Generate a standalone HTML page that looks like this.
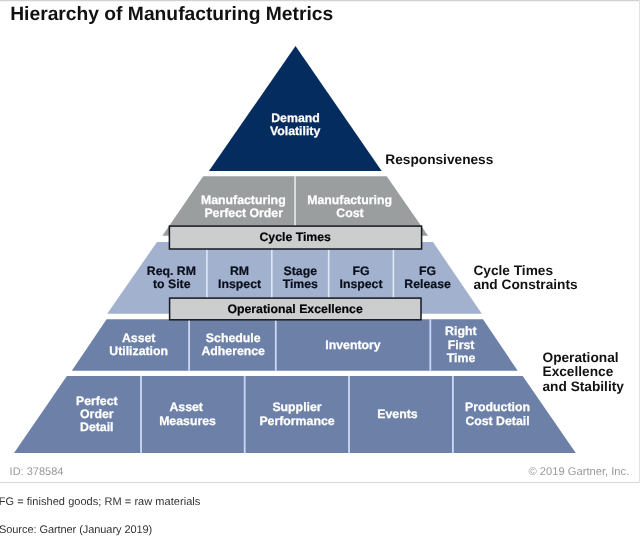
<!DOCTYPE html>
<html lang="en">
<head>
<meta charset="utf-8">
<title>Hierarchy of Manufacturing Metrics</title>
<style>
html,body{margin:0;padding:0;background:#fff;}
body{width:640px;height:540px;overflow:hidden;position:relative;font-family:"Liberation Sans",sans-serif;}
svg{position:absolute;left:0;top:0;display:block;will-change:transform;}
svg text{font-family:"Liberation Sans",sans-serif;text-rendering:geometricPrecision;}
.t{font-weight:bold;font-size:19.25px;fill:#111;}
.w{font-weight:bold;font-size:12.3px;fill:#fff;text-anchor:middle;stroke:#fff;stroke-width:0.25px;}
.k{font-weight:bold;font-size:12.3px;fill:#0a0f1c;text-anchor:middle;stroke:#0a0f1c;stroke-width:0.2px;}
.s{font-weight:bold;font-size:13.7px;fill:#111;}
.g{font-size:11px;fill:#9a9a9a;}
.f{font-size:11px;fill:#333;}
</style>
</head>
<body>
<svg width="640" height="540" viewBox="0 0 640 540">
  <!-- frame -->
  <rect x="0" y="0" width="640" height="1" fill="#d2d2d2"/>
  <rect x="0" y="1" width="640" height="1" fill="#f4f4f4"/>
  <rect x="0" y="482" width="640" height="1" fill="#d6d6d6"/>
  <rect x="639" y="0" width="1" height="483" fill="#e2e2e2"/>
  <rect x="634" y="1" width="1" height="481" fill="#f9f9f9"/>

  <text class="t" x="10.2" y="20.2">Hierarchy of Manufacturing Metrics</text>

  <!-- tier 1 -->
  <polygon points="295.5,46 381.7,171.05 208.9,171.05" fill="#052c5e"/>
  <text class="w" x="295.5" y="122.3">Demand</text>
  <text class="w" x="295.1" y="135.2">Volatility</text>

  <!-- tier 2 -->
  <polygon points="203.2,176.2 386.7,176.2 428,235.8 162.4,235.8" fill="#9a9e9e"/>
  <rect x="294.3" y="176.2" width="1.5" height="50" fill="#eef0f0"/>
  <text class="w" x="243.3" y="203.7">Manufacturing</text>
  <text class="w" x="243.7" y="216.6">Perfect Order</text>
  <text class="w" x="349.6" y="203.7">Manufacturing</text>
  <text class="w" x="350" y="216.6">Cost</text>

  <!-- tier 3 -->
  <polygon points="157,242 433,242 481.8,313.7 107.2,313.7" fill="#a2b1ce"/>
  <rect x="206.10" y="242" width="1.6" height="71.7" fill="#dfe8f7"/>
  <rect x="271.00" y="242" width="1.6" height="71.7" fill="#dfe8f7"/>
  <rect x="327.90" y="242" width="1.6" height="71.7" fill="#dfe8f7"/>
  <rect x="392.60" y="242" width="1.6" height="71.7" fill="#dfe8f7"/>
  <text class="k" x="171.4" y="274.7">Req. RM</text>
  <text class="k" x="171.7" y="288">to Site</text>
  <text class="k" x="239.5" y="274.7">RM</text>
  <text class="k" x="239.6" y="288">Inspect</text>
  <text class="k" x="300.3" y="274.7">Stage</text>
  <text class="k" x="300.3" y="288">Times</text>
  <text class="k" x="361" y="274.7">FG</text>
  <text class="k" x="361" y="288">Inspect</text>
  <text class="k" x="427.6" y="274.7">FG</text>
  <text class="k" x="427.6" y="288">Release</text>

  <!-- cycle times box -->
  <rect x="169.4" y="226.1" width="252.2" height="22.9" fill="#cccecd" stroke="#15181f" stroke-width="1.5"/>
  <text class="k" x="295.2" y="241" style="fill:#000">Cycle Times</text>

  <!-- tier 4 -->
  <polygon points="106.6,319.2 483,319.2 517.7,370.8 71.8,370.8" fill="#6d80a8"/>
  <rect x="188.20" y="319.2" width="1.8" height="51.6" fill="#cbd7f4"/>
  <rect x="274.90" y="319.2" width="1.8" height="51.6" fill="#cbd7f4"/>
  <rect x="429.40" y="319.2" width="1.8" height="51.6" fill="#cbd7f4"/>
  <text class="w" x="138.7" y="342.4">Asset</text>
  <text class="w" x="138.7" y="355.1">Utilization</text>
  <text class="w" x="233.2" y="342.4">Schedule</text>
  <text class="w" x="233.2" y="355.1">Adherence</text>
  <text class="w" x="353" y="348.8">Inventory</text>
  <text class="w" x="460.8" y="335.4">Right</text>
  <text class="w" x="461.1" y="348.6">First</text>
  <text class="w" x="461" y="361.7">Time</text>

  <!-- operational excellence box -->
  <rect x="169.6" y="298.1" width="251.4" height="21.7" fill="#cccecd" stroke="#15181f" stroke-width="1.5"/>
  <text class="k" x="295.1" y="313" style="fill:#000">Operational Excellence</text>

  <!-- tier 5 -->
  <polygon points="66.9,376 522.7,376 575.8,453 14,453" fill="#6d80a8"/>
  <rect x="140.10" y="376" width="1.8" height="77" fill="#cbd7f4"/>
  <rect x="243.80" y="376" width="1.8" height="77" fill="#cbd7f4"/>
  <rect x="348.10" y="376" width="1.8" height="77" fill="#cbd7f4"/>
  <rect x="452.00" y="376" width="1.8" height="77" fill="#cbd7f4"/>
  <text class="w" x="96.8" y="405">Perfect</text>
  <text class="w" x="96.8" y="418.1">Order</text>
  <text class="w" x="96.8" y="430.6">Detail</text>
  <text class="w" x="186.2" y="411.4">Asset</text>
  <text class="w" x="187.5" y="424.5">Measures</text>
  <text class="w" x="297" y="411.4">Supplier</text>
  <text class="w" x="297" y="424.5">Performance</text>
  <text class="w" x="397.5" y="418.1">Events</text>
  <text class="w" x="497.5" y="411.4">Production</text>
  <text class="w" x="497.5" y="424.5">Cost Detail</text>

  <!-- side labels -->
  <text class="s" x="385.3" y="164.2">Responsiveness</text>
  <text class="s" x="473.4" y="274.7">Cycle Times</text>
  <text class="s" x="473.4" y="289.3">and Constraints</text>
  <text class="s" x="542.5" y="361.9">Operational</text>
  <text class="s" x="542.5" y="376.4">Excellence</text>
  <text class="s" x="542.5" y="391.2">and Stability</text>

  <!-- footer -->
  <text class="g" x="9.6" y="475.2">ID: 378584</text>
  <text class="g" x="528.4" y="475.2" style="font-size:11.2px">© 2019 Gartner, Inc.</text>
  <text class="f" x="-1.3" y="505.3" style="letter-spacing:0.046px">FG = finished goods; RM = raw materials</text>
  <text class="f" x="-1" y="532.8" style="letter-spacing:-0.07px">Source: Gartner (January 2019)</text>
</svg>
</body>
</html>
